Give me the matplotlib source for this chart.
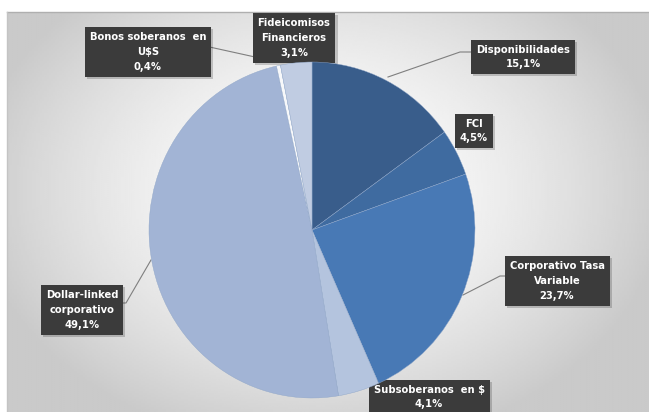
import numpy as np
import matplotlib
matplotlib.use("Agg")
from matplotlib import pyplot as plt
from matplotlib import patheffects as pe

# data, clockwise from 12 o'clock
categories = ["Disponibilidades", "FCI", "Corporativo Tasa\nVariable", "Subsoberanos  en $",
              "Dollar-linked\ncorporativo", "Bonos soberanos  en\nU$S", "Fideicomisos\nFinancieros"]
shares = [15.1, 4.5, 23.7, 4.1, 49.1, 0.4, 3.1]
colors = ["#395D8B", "#3F6BA0", "#4879B5", "#B4C4DE", "#A2B4D5", "#F7F8FA", "#C0CCE2"]

W, H = 649, 412
fig = plt.figure(figsize=(W / 100, H / 100), dpi=100)
fig.patch.set_facecolor("white")

# overlay axes in pixel coordinates (y down)
ov = fig.add_axes([0, 0, 1, 1])
ov.set_xlim(0, W)
ov.set_ylim(H, 0)
ov.axis("off")

# radial gradient background of the chart area
x0, y0 = 7, 12
gx, gy = np.meshgrid(np.linspace(x0, W, 300), np.linspace(y0, H, 200))
r = np.hypot((gx - 320) / 360, (gy - 190) / 270)
val = np.clip(1.0 - 0.22 * r ** 1.6, 0.79, 1.0)
ov.imshow(val, cmap="gray", vmin=0, vmax=1, extent=(x0, W, H, y0),
          aspect="auto", interpolation="bilinear", zorder=0)
ov.plot([x0, W], [y0, y0], color="#AFAFAF", lw=1, zorder=1)
ov.plot([x0, x0], [y0, H], color="#C4C4C4", lw=1, zorder=1)

# pie in its own axes, placed over the ellipse bounding box
left, top, pw, ph = 149, 62, 326, 336
pa = fig.add_axes([left / W, 1 - (top + ph) / H, pw / W, ph / H])
pa.pie(shares, colors=colors, startangle=90, counterclock=False,
       wedgeprops=dict(edgecolor="#8FA6C8", linewidth=0.3))
pa.set_aspect("auto")
pa.set_xlim(-1, 1)
pa.set_ylim(-1, 1)
pa.axis("off")

labels = [f"{c}\n{v:.1f}%".replace(".", ",") for c, v in zip(categories, shares)]
# label box centres (pixels) and leader line anchors
box_pos = [(523, 57), (474, 131), (557, 281), (429, 397), (82, 310), (148, 52), (294, 38)]
leaders = [
    [(475, 52), (460, 52), (388, 77)],
    None,
    [(509, 276), (500, 276), (463, 295)],
    None,
    [(120, 303), (126, 303), (151, 260)],
    [(205, 46), (255, 57)],
    None,
]

for lab, (bx, by), ld in zip(labels, box_pos, leaders):
    if ld is not None:
        xs, ys = zip(*ld)
        ov.plot(xs, ys, color="#7F7F7F", lw=0.8, zorder=4)
    t = ov.text(bx, by, lab, ha="center", va="center", color="white", fontsize=7.2,
                fontweight="bold", family=["Liberation Sans Narrow", "DejaVu Sans"],
                linespacing=1.6, zorder=6,
                bbox=dict(boxstyle="square,pad=0.5", facecolor="#3B3B3B", edgecolor="none"))
    t.get_bbox_patch().set_path_effects(
        [pe.SimplePatchShadow(offset=(1.5, -1.5), alpha=0.2), pe.Normal()])

fig.savefig("out.png", dpi=100)
